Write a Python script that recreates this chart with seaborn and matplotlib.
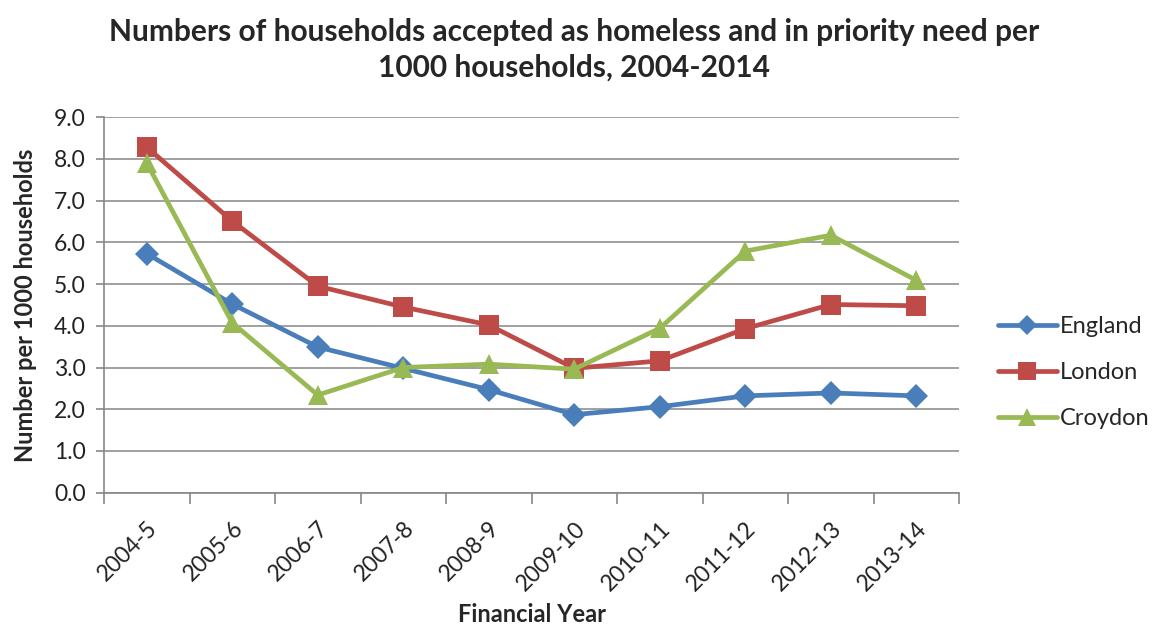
import matplotlib
matplotlib.use("Agg")
import matplotlib.pyplot as plt
import seaborn as sns
import pandas as pd
import numpy as np

years = ["2004-5", "2005-6", "2006-7", "2007-8", "2008-9",
         "2009-10", "2010-11", "2011-12", "2012-13", "2013-14"]
england = [5.73, 4.52, 3.49, 2.98, 2.47, 1.87, 2.06, 2.32, 2.39, 2.32]
london = [8.28, 6.51, 4.95, 4.45, 4.02, 2.98, 3.16, 3.93, 4.51, 4.48]
croydon = [7.90, 4.07, 2.34, 3.00, 3.08, 2.96, 3.94, 5.79, 6.17, 5.09]
series_names = ["England", "London", "Croydon"]
y_ticks = [0, 1, 2, 3, 4, 5, 6, 7, 8, 9]

sns.set_theme(style="white")
plt.rcParams["font.family"] = ["Lato", "DejaVu Sans"]

frames = []
for name, vals in zip(series_names, [england, london, croydon]):
    frames.append(pd.DataFrame({"idx": np.arange(len(years)), "value": vals,
                                "area": name}))
df = pd.concat(frames, ignore_index=True)

palette = {"England": "#4A7EBB", "London": "#BE4B48", "Croydon": "#98B954"}
markers = {"England": "D", "London": "s", "Croydon": "^"}
sizes_m = {"England": 12, "London": 14.5, "Croydon": 15}

fig = plt.figure(figsize=(11.52, 6.3), dpi=100)
ax = fig.add_axes([0.0903, 0.218, 0.7422, 0.596])

sns.lineplot(data=df, x="idx", y="value", hue="area", style="area",
             palette=palette, markers=markers, dashes=False, linewidth=3.4,
             markersize=12, markeredgewidth=0, ax=ax, legend=True, zorder=3)
for line, name in zip(ax.get_lines(), series_names):
    line.set_markersize(sizes_m[name])

ax.set_xlim(-0.5, len(years) - 0.5)
ax.set_ylim(0, 9)
ax.set_yticks(y_ticks)
ax.set_yticklabels([f"{v:.1f}" for v in y_ticks], fontsize=16.5, color="#222222")
ax.set_xticks(np.arange(len(years)))
ax.set_xticklabels(years, rotation=45, ha="right", rotation_mode="anchor",
                   fontsize=16.5, color="#222222")
ax.tick_params(axis="x", length=0, pad=18)
ax.set_xticks(np.arange(len(years) + 1) - 0.5, minor=True)
ax.tick_params(axis="x", which="minor", length=8, color="#888888", width=1.2,
               direction="out", bottom=True)
ax.tick_params(axis="y", length=6, color="#888888", width=1.2, left=True,
               direction="out", pad=7)

ax.grid(axis="y", color="#A0A0A0", linewidth=1.4)
ax.set_axisbelow(True)
for side in ["top", "right"]:
    ax.spines[side].set_visible(False)
for side in ["left", "bottom"]:
    ax.spines[side].set_color("#888888")
    ax.spines[side].set_linewidth(1.2)

ax.set_xlabel("Financial Year", fontsize=17, fontweight="bold", labelpad=6)
ax.set_ylabel("Number per 1000 households", fontsize=17, fontweight="bold",
              labelpad=12)

fig.text(0.498, 0.921,
         "Numbers of households accepted as homeless and in priority need per\n1000 households, 2004-2014",
         ha="center", va="center", fontsize=21.5, fontweight="bold",
         linespacing=1.33)

handles, labels = ax.get_legend_handles_labels()
for h, name in zip(handles, labels):
    h.set_markersize(sizes_m.get(name, 12) * 0.85)
leg = ax.legend(handles, labels, loc="center left", bbox_to_anchor=(1.045, 0.32),
                frameon=False, fontsize=17, handlelength=2.5, labelspacing=1.05,
                handletextpad=0.15, borderaxespad=0, borderpad=0)

fig.savefig("out.png", dpi=100, facecolor="white")
